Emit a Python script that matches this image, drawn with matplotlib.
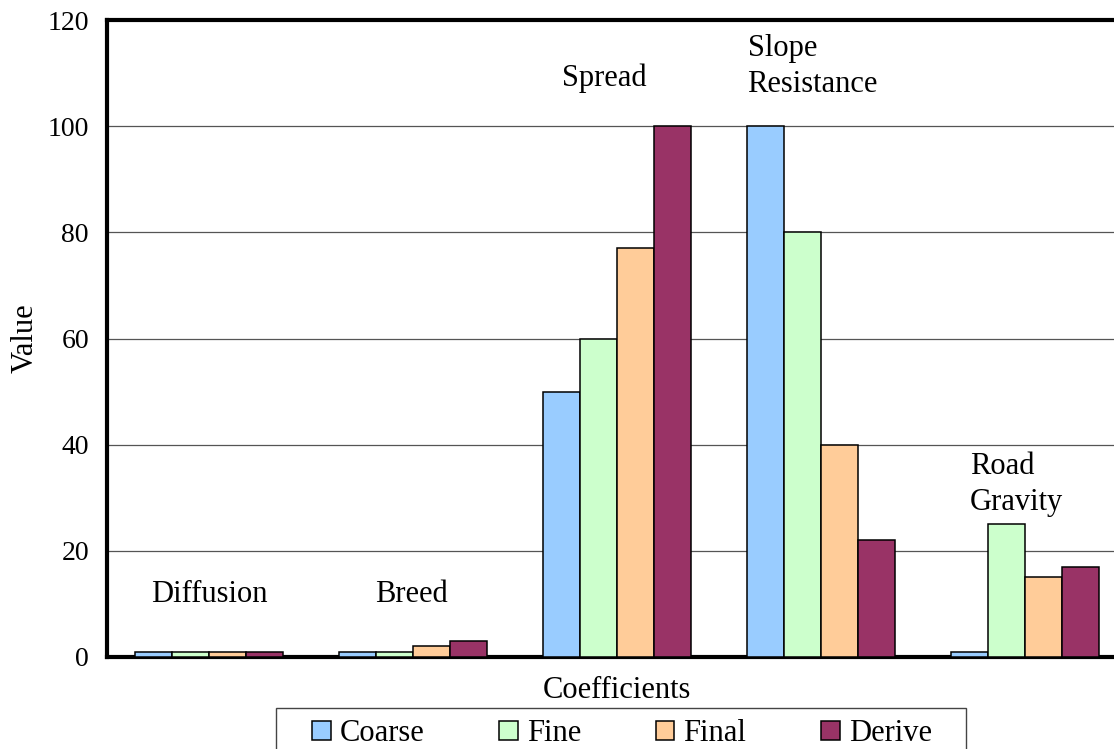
import matplotlib
matplotlib.use("Agg")
import matplotlib.pyplot as plt
from matplotlib.patches import Rectangle
import numpy as np

categories = ["Diffusion", "Breed", "Spread", "Slope\nResistance", "Road\nGravity"]
series_names = ["Coarse", "Fine", "Final", "Derive"]
coarse = [1, 1, 50, 100, 1]
fine = [1, 1, 60, 80, 25]
final = [1, 2, 77, 40, 15]
derive = [1, 3, 100, 22, 17]
y_ticks = [0, 20, 40, 60, 80, 100, 120]

colors = ["#99CCFF", "#CCFFCC", "#FFCC99", "#993366"]
# category label placement (x offset within group, y value, alignment)
label_pos = [(0.0, 11.7, "center"), (-0.01, 11.7, "center"), (-0.064, 109.0, "center"),
             (-0.36, 111.3, "left"), (-0.27, 32.5, "left")]

plt.rcParams["font.family"] = ["Liberation Serif", "DejaVu Serif"]

fig = plt.figure(figsize=(11.14, 7.49), dpi=100)
W, H = 1114, 749
left, right, top, bottom = 107, 1127, 20, 657
ax = fig.add_axes([left / W, 1 - bottom / H, (right - left) / W, (bottom - top) / H])

x = np.arange(len(categories))
bw = 37 / 204
data = [coarse, fine, final, derive]
for i, (vals, name, c) in enumerate(zip(data, series_names, colors)):
    ax.bar(x + (i - 1.5) * bw, vals, width=bw, color=c, edgecolor="black",
           linewidth=1.1, label=name, zorder=3)

FS = 22
for xi, lab, (dx, yv, ha) in zip(x, categories, label_pos):
    ax.text(xi + dx, yv, lab, ha=ha, va="center", fontsize=FS, linespacing=1.32)

ax.set_xlim(-0.5, len(categories) - 0.5)
ax.set_ylim(0, 120)
ax.set_yticks(y_ticks)
ax.set_xticks([])
ax.tick_params(axis="y", length=0, labelsize=20, pad=13)
ax.yaxis.grid(True, color="#555555", linewidth=0.9, zorder=0)
ax.set_axisbelow(True)
for s in ["left", "bottom", "top"]:
    ax.spines[s].set_linewidth(3.0)
ax.spines["right"].set_visible(False)

ax.set_ylabel("Value", fontsize=FS)
ax.yaxis.set_label_coords((40 - left) / (right - left), 0.5)
ax.set_xlabel("Coefficients", fontsize=FS, labelpad=14)

# legend entries without their own frame; the box is drawn separately
leg = fig.legend(loc="upper center", bbox_to_anchor=(622 / W, 1 - 719 / H), ncol=4,
                 fontsize=FS, frameon=False,
                 handlelength=0.6, handleheight=0.6, handletextpad=0.3,
                 columnspacing=2.45, borderpad=0, borderaxespad=0)
fig.patches.append(Rectangle((276 / W, -0.05), (966 - 276) / W, (1 - 708 / H) + 0.05,
                             transform=fig.transFigure, facecolor="none",
                             edgecolor="#444444", linewidth=1.0))

fig.savefig("out.png", dpi=100)
